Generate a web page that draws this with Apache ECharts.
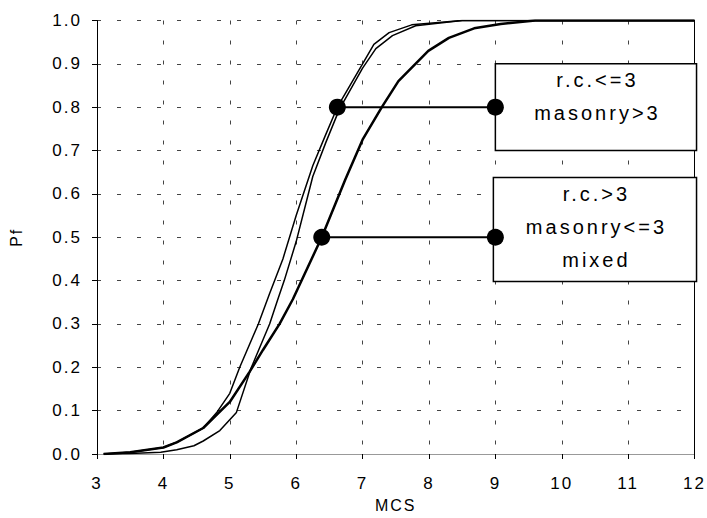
<!DOCTYPE html>
<html>
<head>
<meta charset="utf-8">
<script src="https://cdn.jsdelivr.net/npm/echarts@6/dist/echarts.min.js"></script>
<style>
  html, body { margin: 0; padding: 0; background: #fff; }
  #chart { width: 707px; height: 518px; }
  #chart text { letter-spacing: 2px; }
  #chart text.boxText { letter-spacing: 3px; }
</style>
</head>
<body>
<div id="chart"></div>
<script>
// Fragility curves: probability of failure Pf against intensity MCS
const xTicks = [3, 4, 5, 6, 7, 8, 9, 10, 11, 12];
const yTicks = [0, 0.1, 0.2, 0.3, 0.4, 0.5, 0.6, 0.7, 0.8, 0.9, 1.0];

// r.c. <= 3 storeys
const rcLow = [[3.1,0],[3.5,0.004],[4.0,0.015],[4.2,0.027],[4.6,0.06],[4.8,0.095],[5.0,0.14],[5.15,0.2],[5.43,0.3],[5.6,0.37],[5.8,0.45],[6.0,0.55],[6.25,0.665],[6.44,0.735],[6.62,0.8],[7.0,0.9],[7.17,0.945],[7.4,0.972],[7.74,0.99],[8.5,1],[12,1]];
// masonry > 3 storeys
const masonryHigh = [[3.1,0],[3.5,0.001],[3.96,0.004],[4.2,0.01],[4.46,0.019],[4.6,0.03],[4.85,0.054],[5.1,0.096],[5.32,0.198],[5.6,0.3],[5.72,0.355],[5.82,0.4],[6.0,0.49],[6.25,0.64],[6.45,0.72],[6.65,0.795],[7.0,0.89],[7.2,0.935],[7.45,0.965],[7.8,0.988],[8.5,1],[12,1]];
// r.c. > 3, masonry <= 3 and mixed (nearly coincident)
const rcHighMixed = [[3.1,0],[3.5,0.004],[4.0,0.015],[4.2,0.027],[4.6,0.06],[5.0,0.12],[5.3,0.19],[5.5,0.24],[5.75,0.3],[5.95,0.357],[6.385,0.5],[6.74,0.633],[7.0,0.725],[7.29,0.8],[7.54,0.86],[7.99,0.93],[8.3,0.96],[8.68,0.982],[9.08,0.992],[9.6,1],[12,1]];

// callout leaders: from the curve to the legend box
const leaderTop = [[6.62, 0.8], [9, 0.8]];
const leaderBottom = [[6.385, 0.5], [9, 0.5]];

// legend boxes: [x0, y0, x1, y1] and their text lines
const boxTop = [9, 0.9, 12.03, 0.7];
const boxTopText = ['r.c.<=3', 'masonry>3'];
const boxBottom = [8.97, 0.638, 12.03, 0.398];
const boxBottomText = ['r.c.>3', 'masonry<=3', 'mixed'];
const boxTexts = [boxTopText, boxBottomText];

const FONT = 'Liberation Sans, Arial, sans-serif';

const chart = echarts.init(document.getElementById('chart'), null, { renderer: 'svg' });

const curveStyle = (w) => ({ color: '#000', width: w });

function renderBox(params, api) {
  const p0 = api.coord([api.value(0), api.value(1)]);
  const p1 = api.coord([api.value(2), api.value(3)]);
  const lines = boxTexts[params.dataIndex];
  return {
    type: 'group',
    children: [
      {
        type: 'rect',
        shape: { x: p0[0], y: p0[1], width: p1[0] - p0[0], height: p1[1] - p0[1] },
        style: { fill: '#fff', stroke: '#000', lineWidth: 1.5 }
      },
      {
        type: 'text',
        style: {
          text: lines.join('\n'),
          x: (p0[0] + p1[0]) / 2 + 1.5,
          y: p0[1],
          align: 'center',
          verticalAlign: 'top',
          fill: '#000',
          font: '20px ' + FONT,
          lineHeight: 33
        }
      }
    ]
  };
}

chart.setOption({
  animation: false,
  backgroundColor: '#fff',
  grid: { left: 92.5, right: 12, top: 20.5, bottom: 63, containLabel: false },
  xAxis: [{
    type: 'value', min: 3, max: 12, interval: 1,
    name: 'MCS', nameLocation: 'middle', nameGap: 43,
    nameTextStyle: { color: '#000', fontFamily: FONT, fontSize: 16 },
    axisLine: { lineStyle: { color: '#000', width: 1 } },
    axisTick: { show: true, length: 5, lineStyle: { color: '#000' } },
    axisLabel: { color: '#000', fontFamily: FONT, fontSize: 17, margin: 21,
      formatter: (v) => xTicks.includes(v) ? String(v) : '' },
    splitLine: { show: true, lineStyle: { color: '#444', width: 1, type: [4, 16] } }
  }, {
    type: 'value', min: 3, max: 12, position: 'top',
    axisLine: { show: true, lineStyle: { color: '#999', width: 1 } },
    axisTick: { show: false }, axisLabel: { show: false }, splitLine: { show: false }
  }],
  yAxis: [{
    type: 'value', min: 0, max: 1, interval: 0.1,
    name: 'Pf', nameLocation: 'middle', nameGap: 73, nameRotate: 90,
    nameTextStyle: { color: '#000', fontFamily: FONT, fontSize: 16 },
    axisLine: { show: true, lineStyle: { color: '#000', width: 1 } },
    axisTick: { show: true, length: 5, lineStyle: { color: '#000' } },
    axisLabel: { color: '#000', fontFamily: FONT, fontSize: 17, margin: 15,
      formatter: (v) => {
        const t = yTicks.find(k => Math.abs(k - v) < 1e-6);
        return t === undefined ? '' : t.toFixed(1);
      } },
    splitLine: { show: true, lineStyle: { color: '#444', width: 1, type: [4, 16] } }
  }, {
    type: 'value', min: 0, max: 1, position: 'right',
    axisLine: { show: true, lineStyle: { color: '#000', width: 1 } },
    axisTick: { show: false }, axisLabel: { show: false }, splitLine: { show: false }
  }],
  series: [
    { name: 'r.c.<=3', type: 'line', data: rcLow, showSymbol: false, smooth: false, lineStyle: curveStyle(1.5), z: 3 },
    { name: 'masonry>3', type: 'line', data: masonryHigh, showSymbol: false, smooth: false, lineStyle: curveStyle(1.5), z: 3 },
    { name: 'r.c.>3 / masonry<=3 / mixed', type: 'line', data: rcHighMixed, showSymbol: false, smooth: false, lineStyle: curveStyle(2.5), z: 3 },
    { name: 'legend boxes', type: 'custom', renderItem: renderBox, clip: false, silent: true, z: 4,
      data: [boxTop, boxBottom] },
    { name: 'leader top', type: 'line', data: leaderTop, symbol: 'circle', symbolSize: 17, showSymbol: true,
      itemStyle: { color: '#000' }, lineStyle: curveStyle(2), z: 5 },
    { name: 'leader bottom', type: 'line', data: leaderBottom, symbol: 'circle', symbolSize: 17, showSymbol: true,
      itemStyle: { color: '#000' }, lineStyle: curveStyle(2), z: 5 }
  ]
});

// wider tracking for the text inside the legend boxes
document.querySelectorAll('#chart text').forEach(t => {
  if (/^(r\.c\.|masonry|mixed)/.test(t.textContent)) t.classList.add('boxText');
});
</script>
</body>
</html>
